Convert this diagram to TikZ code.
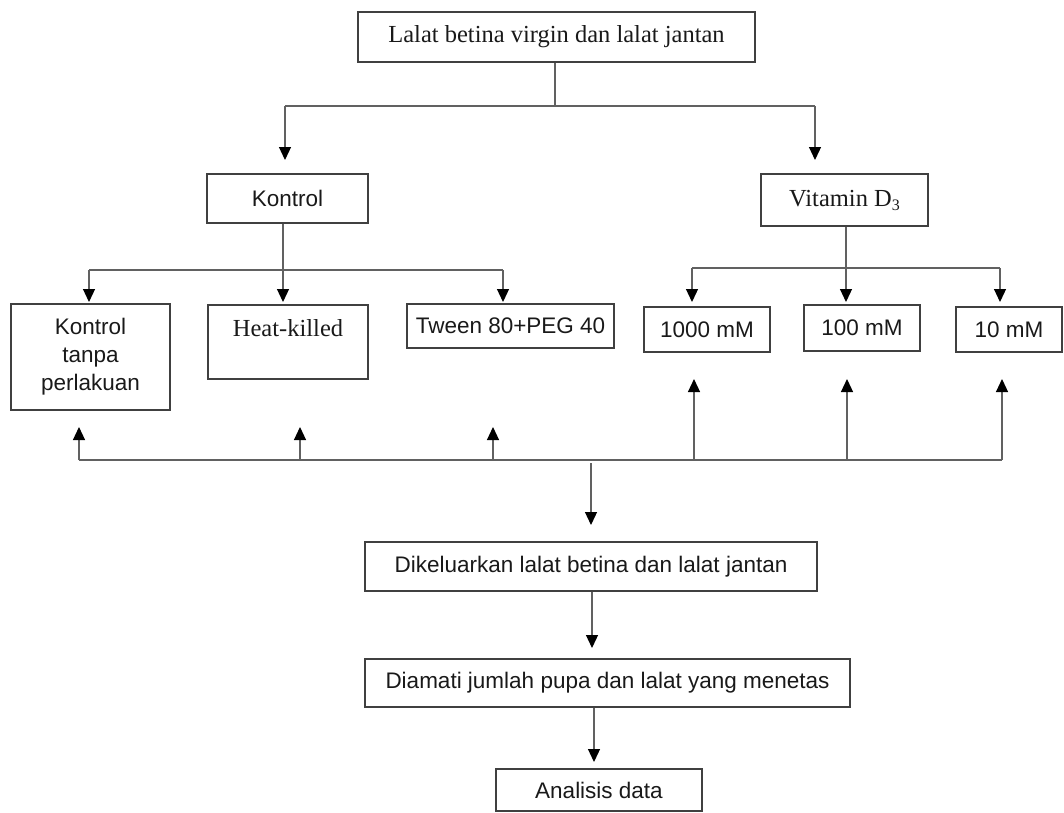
\documentclass[tikz,border=0pt]{standalone}
\usepackage{fontspec}
\setmainfont{Liberation Serif}
\newfontfamily\arialf{Liberation Sans}
\usetikzlibrary{arrows.meta}
\begin{document}
\begin{tikzpicture}[x=1pt,y=-1pt,
  box/.style={draw=black!75, line width=1.2pt, inner sep=0pt, text=black!90},
  ln/.style={draw=black!62, line width=1.2pt},
  arr/.style={ln, -{Triangle[width=12pt,length=13pt,color=black]}},
  sf/.style={font=\arialf\fontsize{22.5}{28}\selectfont},
  rm/.style={font=\fontsize{24.5}{28}\selectfont}]
\useasboundingbox (0,0) rectangle (1064,812);

% boxes
\node[box,rm,minimum width=397pt,minimum height=50pt] (top) at (556.5,37) {Lalat betina virgin dan lalat jantan};
\node[box,sf,minimum width=161pt,minimum height=49pt] (kon) at (287.5,198.5) {Kontrol};
\node[box,rm,minimum width=167pt,minimum height=52pt] (vit) at (844.5,200) {Vitamin D\raisebox{-0.35ex}{\fontsize{16}{16}\selectfont 3}};
\node[box,sf,align=center,minimum width=159pt,minimum height=106pt] (ktp) at (90.5,357) {Kontrol\\tanpa\\perlakuan};
\node[box,minimum width=160pt,minimum height=74pt] (hk) at (288,342) {};
\node[rm,text=black!90] (hkt) at (288,328) {Heat-killed};
\node[box,sf,minimum width=207pt,minimum height=44pt] (tw) at (510.5,326) {Tween 80+PEG 40};
\node[box,sf,minimum width=126pt,minimum height=45pt] (d1) at (707,329.5) {1000 mM};
\node[box,sf,minimum width=116pt,minimum height=46pt] (d2) at (862,328) {100 mM};
\node[box,sf,minimum width=106pt,minimum height=45pt] (d3) at (1009,329.5) {10 mM};
\node[box,sf,minimum width=452pt,minimum height=49pt] (kel) at (591,566.5) {Dikeluarkan lalat betina dan lalat jantan};
\node[box,sf,minimum width=485pt,minimum height=48pt] (ama) at (607.5,683) {Diamati jumlah pupa dan lalat yang menetas};
\node[box,sf,minimum width=206pt,minimum height=42pt] (ana) at (599,790) {Analisis data};

% coordinates
\coordinate (s1) at (555,106);
\coordinate (s1l) at (285,106);
\coordinate (s1r) at (815,106);
\coordinate (t1l) at (285,160);
\coordinate (t1r) at (815,160);

\coordinate (s2) at (283,270);
\coordinate (s2l) at (89,270);
\coordinate (s2r) at (503,270);
\coordinate (t2a) at (89,302);
\coordinate (t2b) at (283,302);
\coordinate (t2c) at (503,302);

\coordinate (s3) at (846,268);
\coordinate (s3l) at (692,268);
\coordinate (s3r) at (1000,268);
\coordinate (t3a) at (692,302);
\coordinate (t3b) at (846,302);
\coordinate (t3c) at (1000,302);

\coordinate (b1) at (79,460);
\coordinate (b2) at (300,460);
\coordinate (b3) at (493,460);
\coordinate (b4) at (694,460);
\coordinate (b5) at (847,460);
\coordinate (b6) at (1002,460);
\coordinate (u1) at (79,427);
\coordinate (u2) at (300,427);
\coordinate (u3) at (493,427);
\coordinate (u4) at (694,379);
\coordinate (u5) at (847,379);
\coordinate (u6) at (1002,379);
\coordinate (m0) at (591,463);
\coordinate (m1) at (591,525);
\coordinate (m2) at (592,648);
\coordinate (m3) at (594,762);

% top split
\draw[ln] (top.south -| s1) -- (s1);
\draw[ln] (s1l) -- (s1r);
\draw[arr] (s1l) -- (t1l);
\draw[arr] (s1r) -- (t1r);

% kontrol split
\draw[ln] (kon.south -| s2) -- (s2);
\draw[ln] (s2l) -- (s2r);
\draw[arr] (s2l) -- (t2a);
\draw[arr] (s2) -- (t2b);
\draw[arr] (s2r) -- (t2c);

% vitamin split
\draw[ln] (vit.south -| s3) -- (s3);
\draw[ln] (s3l) -- (s3r);
\draw[arr] (s3l) -- (t3a);
\draw[arr] (s3) -- (t3b);
\draw[arr] (s3r) -- (t3c);

% bottom collector
\draw[ln] (b1) -- (b6);
\draw[arr] (b1) -- (u1);
\draw[arr] (b2) -- (u2);
\draw[arr] (b3) -- (u3);
\draw[arr] (b4) -- (u4);
\draw[arr] (b5) -- (u5);
\draw[arr] (b6) -- (u6);

% lower chain
\draw[arr] (m0) -- (m1);
\draw[arr] (kel.south -| m2) -- (m2);
\draw[arr] (ama.south -| m3) -- (m3);
\end{tikzpicture}
\end{document}
